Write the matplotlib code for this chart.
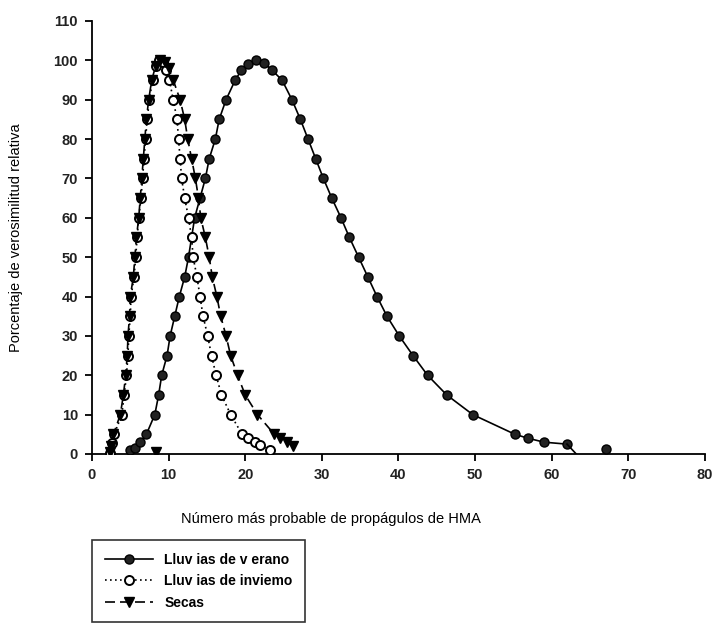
import matplotlib
matplotlib.use("Agg")
import matplotlib.pyplot as plt
from matplotlib.lines import Line2D

plt.rcParams['font.family'] = ['Liberation Sans', 'DejaVu Sans']

# Lluvias de verano
verano_x = [5.0, 5.6, 6.3, 7.1, 8.2, 8.7, 9.1, 9.8, 10.2, 10.8, 11.4, 12.1, 12.6, 13.0,
            13.4, 14.1, 14.8, 15.3, 16.1, 16.6, 17.5, 18.7, 19.5, 20.3, 21.4, 22.5, 23.5,
            24.8, 26.1, 27.2, 28.2, 29.2, 30.2, 31.3, 32.5, 33.6, 34.8, 36.0, 37.2, 38.5,
            40.1, 41.9, 43.8, 46.3, 49.7, 55.2, 56.9, 59.0, 62.0]
verano_y = [1.0, 1.5, 3.0, 5.0, 10, 15, 20, 25, 30, 35, 40, 45, 50, 55,
            60, 65, 70, 75, 80, 85, 90, 95, 97.5, 99, 100, 99.3, 97.5,
            95, 90, 85, 80, 75, 70, 65, 60, 55, 50, 45, 40, 35,
            30, 25, 20, 15, 10, 5, 4, 3, 2.5]
verano_end_x = [62.0, 63.2]
verano_end_y = [2.5, 0.0]
verano_extra_x = [67.1]
verano_extra_y = [1.3]

# Lluvias de invierno
invierno_x = [2.4, 2.6, 2.9, 3.9, 4.2, 4.5, 4.7, 4.8, 5.0, 5.1, 5.5, 5.7, 5.9, 6.1, 6.4,
              6.6, 6.8, 7.0, 7.2, 7.5, 7.9, 8.4, 8.8, 9.3, 9.7, 10.1, 10.6, 11.1, 11.3,
              11.5, 11.7, 12.1, 12.6, 13.0, 13.2, 13.7, 14.1, 14.5, 15.1, 15.6, 16.2,
              16.9, 18.1, 19.6, 20.4, 21.3, 21.9, 23.2]
invierno_y = [0.3, 2.8, 5, 10, 15, 20, 25, 30, 35, 40, 45, 50, 55, 60, 65,
              70, 75, 80, 85, 90, 95, 98.5, 100, 99.5, 97.5, 95, 90, 85, 80,
              75, 70, 65, 60, 55, 50, 45, 40, 35, 30, 25, 20,
              15, 10, 5, 4, 3, 2.3, 1.0]

# Secas
secas_x = [2.3, 2.5, 2.8, 3.7, 4.1, 4.4, 4.6, 4.7, 4.9, 5.0, 5.4, 5.6, 5.8, 6.1, 6.3,
           6.5, 6.7, 6.9, 7.1, 7.4, 7.8, 8.3, 8.9, 9.5, 10.0, 10.6, 11.5, 12.1, 12.5,
           13.0, 13.5, 13.9, 14.2, 14.8, 15.3, 15.7, 16.3, 16.8, 17.5, 18.1, 19.0,
           20.0, 21.6, 23.8, 24.6, 25.4, 26.3]
secas_y = [0.5, 2, 5, 10, 15, 20, 25, 30, 35, 40, 45, 50, 55, 60, 65,
           70, 75, 80, 85, 90, 95, 98.5, 100, 99.5, 98, 95, 90, 85, 80,
           75, 70, 65, 60, 55, 50, 45, 40, 35, 30, 25, 20,
           15, 10, 5, 4, 3, 2]
secas_extra_x = [8.4]
secas_extra_y = [0.6]

xticks = list(range(0, 81, 10))
yticks = list(range(0, 111, 10))
labels = ["Lluv ias de v erano", "Lluv ias de inviemo", "Secas"]

fig = plt.figure(figsize=(7.13, 6.23), dpi=100)
ax = fig.add_axes([0.129, 0.2713, 0.8597, 0.695])

ms = 6.5
lw = 1.2
ax.plot(verano_x, verano_y, color='black', lw=lw, ls='-', marker='o', ms=ms,
        mfc='#222222', mec='black', zorder=3)
ax.plot(verano_end_x, verano_end_y, color='black', lw=lw, ls='-', zorder=3)
ax.plot(verano_extra_x, verano_extra_y, ls='none', marker='o', ms=ms,
        mfc='#222222', mec='black', zorder=3)

ax.plot(invierno_x, invierno_y, color='black', lw=lw, ls=(0, (1, 2)), marker='o', ms=ms,
        mfc='white', mec='black', mew=1.4, zorder=4)

ax.plot(secas_x, secas_y, color='black', lw=lw, ls=(0, (6, 3)), marker='v', ms=ms + 0.5,
        mfc='black', mec='black', zorder=5)
ax.plot(secas_extra_x, secas_extra_y, ls='none', marker='v', ms=ms + 0.5,
        mfc='black', mec='black', zorder=5)

ax.set_xlim(0, 80)
ax.set_ylim(0, 110)
ax.set_xticks(xticks)
ax.set_yticks(yticks)
for s in ['top', 'right']:
    ax.spines[s].set_visible(False)
for s in ['left', 'bottom']:
    ax.spines[s].set_linewidth(1.3)
ax.tick_params(axis='both', direction='out', length=5, width=1.3, labelsize=10.5, pad=5)
for t in ax.get_xticklabels() + ax.get_yticklabels():
    t.set_fontweight('bold')
    t.set_color('#222222')

ax.set_xlabel("Número más probable de propágulos de HMA", fontsize=10.5)
ax.xaxis.set_label_coords(0.39, -0.135)
ax.set_ylabel("Porcentaje de verosimilitud relativa", fontsize=10.5)
ax.yaxis.set_label_coords(-0.112, 0.5)

handles = [
    Line2D([], [], color='black', lw=lw, ls='-', marker='o', ms=ms, mfc='#222222', mec='black'),
    Line2D([], [], color='black', lw=lw, ls=(0, (1, 2)), marker='o', ms=ms, mfc='white', mec='black', mew=1.4),
    Line2D([], [], color='black', lw=lw, ls=(0, (6, 3)), marker='v', ms=ms + 0.5, mfc='black', mec='black'),
]
leg = fig.legend(handles, labels, loc='upper left', bbox_to_anchor=(92 / 713, 1 - 540 / 623),
                 borderaxespad=0, frameon=True, fancybox=False, edgecolor='black',
                 handlelength=3.5, prop={'weight': 'bold', 'size': 10},
                 borderpad=0.9, labelspacing=0.55)
leg.get_frame().set_linewidth(1.2)

fig.savefig("out.png", dpi=100)
